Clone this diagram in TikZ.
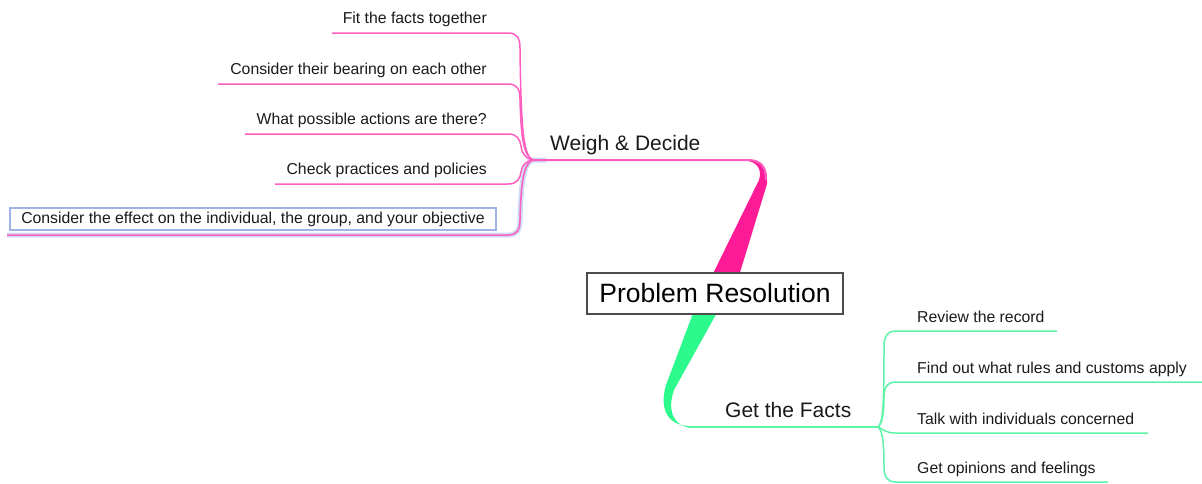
\documentclass[tikz,border=0pt]{standalone}
\usepackage{fontspec}
\setmainfont{Liberation Sans}
\definecolor{pinkdeep}{HTML}{FF1A96}
\definecolor{pinkline}{HTML}{FF5EC0}
\definecolor{greendeep}{HTML}{2CFA8C}
\definecolor{greenline}{HTML}{5EF4A8}
\definecolor{selblue}{HTML}{CCDBF6}
\definecolor{selborder}{HTML}{9FB4E4}
\definecolor{txt}{HTML}{1A1A1A}
\begin{document}
\begin{tikzpicture}[x=1pt,y=-1pt,
  leaf/.style={font=\fontsize{15.8}{18}\selectfont, inner sep=0pt, text=txt},
  mid/.style={font=\fontsize{21}{24}\selectfont, inner sep=0pt, text=txt},
  pinkbranch/.style={draw=pinkline, line width=1.5pt},
  greenbranch/.style={draw=greenline, line width=1.5pt},
  glow/.style={draw=selblue, line width=5pt}]
\useasboundingbox (0,0) rectangle (1202,483);

% junctions and line ends
\coordinate (J1) at (533,160);
\coordinate (J2) at (878,427);
\coordinate (s1) at (332,33);
\coordinate (s2) at (218,84);
\coordinate (s3) at (245,134);
\coordinate (s4) at (275,184);
\coordinate (s5) at (7,235);
\coordinate (e1) at (1057,331);
\coordinate (e2) at (1202,382);
\coordinate (e3) at (1148,433);
\coordinate (e4) at (1108,482);
\coordinate (pk) at (766,180);
\coordinate (gk) at (688,427);

% selection glow
\draw[glow] (s5) -- (508,235) .. controls (517,235) and (520,230) .. (520,220) .. controls (521,180) and (524,163) .. (J1) -- (546,160);

% thick tapered main branches
\fill[pinkdeep] (704,292) -- (759,180) .. controls (762,170) and (758,163) .. (748,161)
  -- (752,160) .. controls (763,161) and (768,168) .. (767,184) -- (734,292) -- cycle;
\fill[greendeep] (698,300) -- (666,385) .. controls (660,405) and (664,426) .. (692,426.3)
  -- (692,427.7) .. controls (673,427) and (667,410) .. (674,390) -- (724,300) -- cycle;

% main thin lines
\draw[pinkbranch, line width=2pt] (J1) -- (748,160) .. controls (760,160) and (766,166) .. (pk);
\draw[greenbranch, line width=2pt] (gk) -- (J2);

% root
\node[draw=black!70, line width=1.3pt, fill=white, minimum width=256pt, minimum height=41pt,
  font=\fontsize{26.5}{30}\selectfont, text=black, inner sep=0pt] (root) at (715,293.5) {Problem Resolution};

% branch labels
\node[mid, anchor=base west] (wd) at (550,150.5) {Weigh \& Decide};
\node[mid, anchor=base west] (gf) at (725,417.5) {Get the Facts};

% left leaves
\draw[pinkbranch] (s1) -- (508,33) .. controls (517,33) and (520,38) .. (520,48) .. controls (521,135) and (524,156) .. (J1);
\draw[pinkbranch] (s2) -- (508,84) .. controls (517,84) and (520,89) .. (520,99) .. controls (521,140) and (524,156) .. (J1);
\draw[pinkbranch] (s3) -- (508,134) .. controls (517,134) and (520,139) .. (521,146) .. controls (522,154) and (526,159) .. (J1);
\draw[pinkbranch] (s4) -- (508,184) .. controls (517,184) and (520,179) .. (521,172) .. controls (522,165) and (526,161) .. (J1);
\draw[pinkbranch] (s5) -- (508,235) .. controls (517,235) and (520,230) .. (520,220) .. controls (521,180) and (524,163) .. (J1);

\node[leaf, anchor=base east] (t1) at (487,23) {Fit the facts together};
\node[leaf, anchor=base east] (t2) at (487,74) {Consider their bearing on each other};
\node[leaf, anchor=base east] (t3) at (487,124) {What possible actions are there?};
\node[leaf, anchor=base east] (t4) at (487,174) {Check practices and policies};
\node[leaf, draw=selborder, line width=1.2pt, minimum width=486pt, minimum height=22pt] (t5) at (253,219) {Consider the effect on the individual, the group, and your objective};

% right leaves
\draw[greenbranch] (e1) -- (895,331) .. controls (888,331) and (884,336) .. (884,346) .. controls (884,405) and (883,423) .. (J2);
\draw[greenbranch] (e2) -- (895,382) .. controls (888,382) and (884,387) .. (884,396) .. controls (884,415) and (882,424) .. (J2);
\draw[greenbranch] (e3) -- (895,433) .. controls (887,433) and (884,430) .. (J2);
\draw[greenbranch] (e4) -- (895,482) .. controls (888,482) and (884,477) .. (884,467) .. controls (884,440) and (882,430) .. (J2);

\node[leaf, anchor=base west] (r1) at (917,322) {Review the record};
\node[leaf, anchor=base west] (r2) at (917,373) {Find out what rules and customs apply};
\node[leaf, anchor=base west] (r3) at (917,424) {Talk with individuals concerned};
\node[leaf, anchor=base west] (r4) at (917,473) {Get opinions and feelings};
\end{tikzpicture}
\end{document}
